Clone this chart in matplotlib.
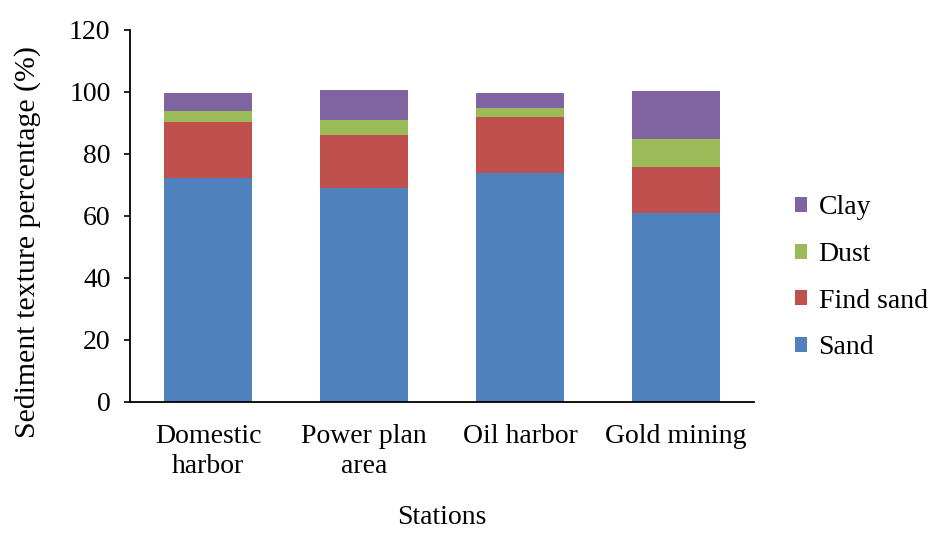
import matplotlib.pyplot as plt

plt.rcParams['font.family'] = ['Liberation Serif', 'DejaVu Serif']

# sediment texture composition per station (%)
stations = ['Domestic\nharbor', 'Power plan\narea', 'Oil harbor', 'Gold mining']
sand = [72.1, 68.8, 73.8, 60.9]
find_sand = [18.0, 17.3, 17.9, 14.9]
dust = [3.7, 4.9, 2.9, 9.0]
clay = [5.9, 9.5, 5.1, 15.3]

series = [('Sand', sand, '#4F81BD'),
          ('Find sand', find_sand, '#C0504D'),
          ('Dust', dust, '#9BBB59'),
          ('Clay', clay, '#8064A2')]

FS = 20

fig = plt.figure(figsize=(9.29, 5.33), dpi=100)
ax = fig.add_axes([130 / 929, 1 - 401.5 / 533, 624 / 929, (401.5 - 29.7) / 533])

x = list(range(len(stations)))
bottom = [0.0] * len(stations)
handles = []
for name, vals, color in series:
    h = ax.bar(x, vals, width=0.566, bottom=bottom, color=color, label=name,
               edgecolor='none')
    handles.append(h)
    bottom = [b + v for b, v in zip(bottom, vals)]

ax.set_xlim(-0.5, 3.5)
ax.set_ylim(0, 120)
ax.set_yticks(range(0, 121, 20))
ax.set_xticks(x)
ax.set_xticklabels(stations, fontsize=FS, linespacing=1.3)
ax.tick_params(axis='y', labelsize=FS, direction='out', length=4, width=1.2, pad=10)
ax.tick_params(axis='x', length=0, pad=16)

for side in ('top', 'right'):
    ax.spines[side].set_visible(False)
ax.spines['left'].set_linewidth(1.3)
ax.spines['bottom'].set_linewidth(1.3)

# y label placed in figure coordinates near the left edge
fig.text(28 / 929, 1 - 242 / 533, 'Sediment texture percentage (%)', fontsize=21.5,
         rotation=90, ha='center', va='center')
fig.text((130 + 754) / 2 / 929, 1 - 518 / 533, 'Stations', fontsize=FS,
         ha='center', va='center')

leg = fig.legend(handles[::-1], [s[0] for s in series][::-1],
                 loc='center left', bbox_to_anchor=(795 / 929, 1 - 278 / 533),
                 frameon=False, fontsize=FS, handlelength=0.45,
                 handleheight=0.45, handletextpad=0.4, labelspacing=0.78,
                 borderpad=0, borderaxespad=0)

fig.savefig('out.png', dpi=100)
